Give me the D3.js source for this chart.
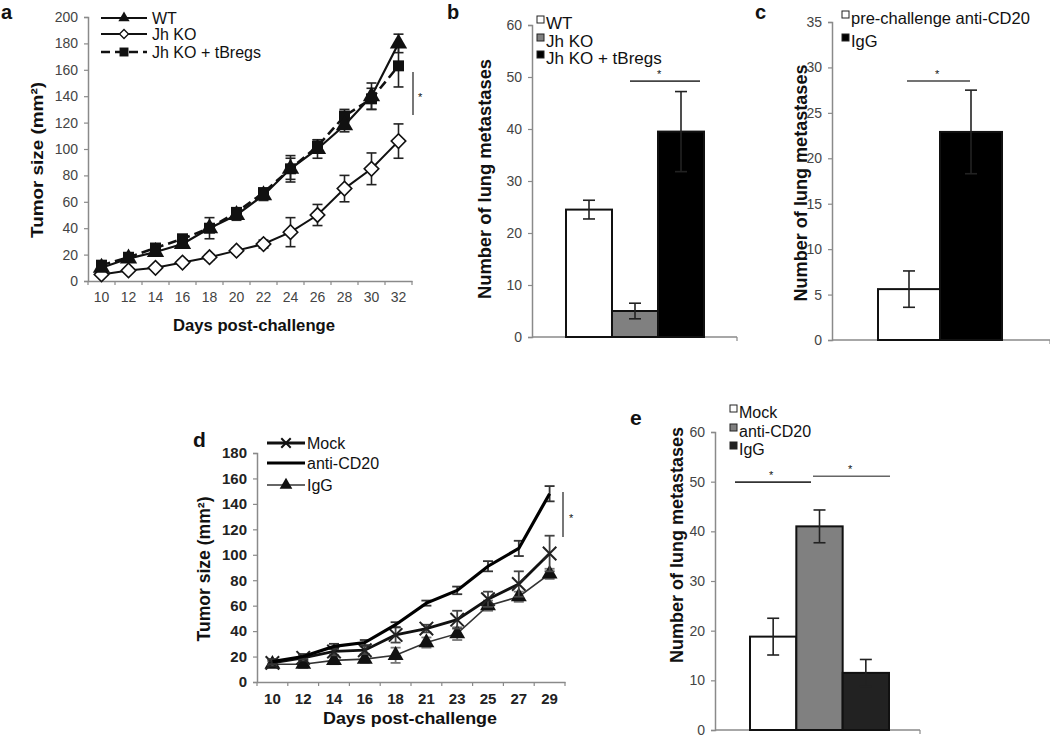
<!DOCTYPE html>
<html><head><meta charset="utf-8">
<script src="https://cdn.jsdelivr.net/npm/d3@7"></script>
<style>body{margin:0;background:#fff}svg{display:block;font-family:"Liberation Sans",Arial,sans-serif}</style>
</head><body><svg id="c" width="1050" height="738"></svg>
<script>
// ---------- DATA ----------
const daysA = [10,12,14,16,18,20,22,24,26,28,30,32];
const wtA   = [10,17,22,28,40,50,65,85,100,118,140,180];
const wtErrA= [1,2,3,3,8,4,4,10,7,5,10,7];
const jhA   = [5,8,10,14,18,23,28,37,50,70,85,106];
const jhErrA= [1,1,1,2,2,2,3,11,8,10,12,13];
const tbA   = [12,18,25,32,40,52,67,85,102,125,138,163];
const tbErrA= [2,2,3,3,3,3,3,8,5,5,8,16];
const seriesA = ["WT","Jh KO","Jh KO + tBregs"];
const yTicksA = [0,20,40,60,80,100,120,140,160,180,200];

const groupsB = ["WT","Jh KO","Jh KO + tBregs"];
const valsB = [24.5,5,39.5];
const errB  = [1.8,1.5,7.7];
const yTicksB = [0,10,20,30,40,50,60];

const groupsC = ["pre-challenge anti-CD20","IgG"];
const valsC = [5.6,22.9];
const errC  = [2.0,4.6];
const yTicksC = [0,5,10,15,20,25,30,35];

const daysD = [10,12,14,16,18,21,23,25,27,29];
const mockD = [15,19,24,25,37,42,49,65,77,101];
const mockErrD = [2,2,3,3,6,3,7,6,10,14];
const cd20D = [16,20,28,31,45,62,72,91,105,148];
const cd20ErrD = [2,2,2,2,2,2,3,4,6,6];
const iggD = [14,14,17,18,21,31,38,60,67,85];
const iggErrD = [2,3,3,3,6,4,5,4,4,4];
const seriesD = ["Mock","anti-CD20","IgG"];
const yTicksD = [0,20,40,60,80,100,120,140,160,180];

const groupsE = ["Mock","anti-CD20","IgG"];
const valsE = [18.8,41,11.5];
const errE  = [3.7,3.3,2.7];
const yTicksE = [0,10,20,30,40,50,60];

// ---------- HELPERS ----------
const svg = d3.select("#c");
svg.append("rect").attr("width",1050).attr("height",738).attr("fill","#fff");
const AX = "#8a8a8a", TK = "#444";
const FF = "'Liberation Sans',Arial,sans-serif";

function yAxis(y, x0, ticks, fs, fill, weight){
  const g = svg.append("g").attr("transform",`translate(${x0},0)`)
    .call(d3.axisLeft(y).tickValues(ticks).tickSize(4).tickPadding(6).tickFormat(d3.format("d")));
  g.select(".domain").attr("stroke",AX).attr("stroke-width",1.5);
  g.selectAll(".tick line").attr("stroke",AX).attr("stroke-width",1.2);
  g.selectAll(".tick text").attr("fill",fill||TK).style("font-size",fs+"px").style("font-weight",weight||"normal").style("font-family",FF);
  return g;
}
function xBaseline(x0,x1,yy){
  svg.append("line").attr("x1",x0).attr("x2",x1).attr("y1",yy).attr("y2",yy).attr("stroke",AX).attr("stroke-width",1.5);
  svg.append("line").attr("x1",x1).attr("x2",x1).attr("y1",yy).attr("y2",yy+4).attr("stroke",AX).attr("stroke-width",1.2);
}
function xCatAxis(x, yy, fs, fill, weight){
  const g = svg.append("g").attr("transform",`translate(0,${yy})`)
    .call(d3.axisBottom(x).tickSize(0).tickPadding(11));
  g.select(".domain").attr("stroke",AX).attr("stroke-width",1.5);
  g.selectAll(".tick text").attr("fill",fill||TK).style("font-size",fs+"px").style("font-weight",weight||"normal").style("font-family",FF);
  const bounds = x.domain().map(d=>x(d)+x.bandwidth()).concat([x(x.domain()[0])]);
  g.selectAll("line.bt").data(bounds).join("line").attr("class","bt")
    .attr("x1",d=>d).attr("x2",d=>d).attr("y1",0).attr("y2",4).attr("stroke",AX).attr("stroke-width",1.2);
}
function text(x,y,s,opt){
  opt=opt||{};
  const t = svg.append("text").attr("x",x).attr("y",y).text(s)
    .style("font-size",(opt.fs||14)+"px").attr("fill",opt.fill||"#111")
    .style("font-weight",opt.bold?"bold":"normal")
    .attr("text-anchor",opt.anchor||"start");
  if(opt.len) t.attr("textLength",opt.len).attr("lengthAdjust","spacingAndGlyphs");
  if(opt.rot) t.attr("transform",`rotate(-90,${x},${y})`);
  return t;
}
function errBars(xs, vals, errs, y, opt){
  opt=opt||{};
  const cap = opt.cap||5;
  const g = svg.append("g").attr("stroke",opt.color||"#222").attr("stroke-width",opt.sw||1.6);
  vals.forEach((v,i)=>{
    const top = v+errs[i], bot = v-errs[i];
    g.append("line").attr("x1",xs[i]).attr("x2",xs[i]).attr("y1",y(top)).attr("y2",y(bot));
    g.append("line").attr("x1",xs[i]-cap).attr("x2",xs[i]+cap).attr("y1",y(top)).attr("y2",y(top));
    g.append("line").attr("x1",xs[i]-cap).attr("x2",xs[i]+cap).attr("y1",y(bot)).attr("y2",y(bot));
  });
}
const tri = d3.symbol().type(d3.symbolTriangle);
const sq = d3.symbol().type(d3.symbolSquare);
const crs = d3.symbol().type(d3.symbolX);

// ---------- PANEL A ----------
{
  const x = d3.scaleBand().domain(daysA).range([88,412]);
  const y = d3.scaleLinear().domain([0,200]).range([281,17]);
  const cx = d=>x(d)+x.bandwidth()/2;
  yAxis(y,88,yTicksA,14);
  xCatAxis(x,281,14);
  const line = d3.line().x((d,i)=>cx(daysA[i])).y(d=>y(d));
  const xs = daysA.map(cx);
  errBars(xs, jhA, jhErrA, y, {cap:5});
  svg.append("path").attr("d",line(jhA)).attr("fill","none").attr("stroke","#111").attr("stroke-width",2);
  svg.selectAll(null).data(jhA).join("path").attr("d",sq.size(105)())
    .attr("transform",(d,i)=>`translate(${xs[i]},${y(d)}) rotate(45)`).attr("fill","#fff").attr("stroke","#111").attr("stroke-width",1.6);
  errBars(xs, wtA, wtErrA, y, {cap:5});
  errBars(xs, tbA, tbErrA, y, {cap:5});
  svg.append("path").attr("d",line(tbA)).attr("fill","none").attr("stroke","#111").attr("stroke-width",2.6).attr("stroke-dasharray","9,5");
  svg.append("path").attr("d",line(wtA)).attr("fill","none").attr("stroke","#111").attr("stroke-width",2.2);
  svg.selectAll(null).data(tbA).join("path").attr("d",sq.size(120)())
    .attr("transform",(d,i)=>`translate(${xs[i]},${y(d)})`).attr("fill","#111");
  svg.selectAll(null).data(wtA).join("path").attr("d",tri.size(130)())
    .attr("transform",(d,i)=>`translate(${xs[i]},${y(d)})`).attr("fill","#111");
  const ly=[18,34,52];
  [[2.2,null],[2,null],[2.6,"9,5"]].forEach((s,i)=>{
    svg.append("line").attr("x1",101).attr("x2",147).attr("y1",ly[i]).attr("y2",ly[i]).attr("stroke","#111").attr("stroke-width",s[0]).attr("stroke-dasharray",s[1]);
    text(152,ly[i]+6,seriesA[i],{fs:16});
  });
  svg.append("path").attr("d",tri.size(55)()).attr("transform",`translate(124,${ly[0]})`).attr("fill","#111");
  svg.append("path").attr("d",sq.size(40)()).attr("transform",`translate(124,${ly[1]}) rotate(45)`).attr("fill","#fff").attr("stroke","#111").attr("stroke-width",1.3);
  svg.append("path").attr("d",sq.size(80)()).attr("transform",`translate(124,${ly[2]})`).attr("fill","#111");
  svg.append("line").attr("x1",413).attr("x2",413).attr("y1",72).attr("y2",115).attr("stroke","#555").attr("stroke-width",1.6);
  text(418,101,"*",{fs:11});
  text(1,19,"a",{fs:20,bold:true});
  text(43,160,"Tumor size (mm²)",{fs:17,bold:true,rot:true,anchor:"middle",len:156});
  text(254,331,"Days post-challenge",{fs:16,bold:true,anchor:"middle",len:162});
}

function barPanel(cfg){
  const y = d3.scaleLinear().domain(cfg.dom).range([cfg.y0,cfg.y1]);
  const x = d3.scaleBand().domain(cfg.groups).range([cfg.bx0,cfg.bx1]).padding(0);
  yAxis(y,cfg.ax,cfg.ticks,14);
  xBaseline(cfg.ax,cfg.axEnd,cfg.y0);
  svg.selectAll(null).data(cfg.vals).join("rect")
    .attr("x",(d,i)=>x(cfg.groups[i])).attr("width",x.bandwidth())
    .attr("y",d=>y(d)).attr("height",d=>cfg.y0-y(d))
    .attr("fill",(d,i)=>cfg.colors[i]).attr("stroke","#111").attr("stroke-width",2);
  errBars(cfg.groups.map(g=>x(g)+x.bandwidth()/2), cfg.vals, cfg.errs, y, {cap:6});
  return {x,y};
}
function legendSq(x,ys,labels,colors,fs){
  labels.forEach((l,i)=>{
    svg.append("rect").attr("x",x).attr("y",ys[i]-9).attr("width",7).attr("height",7).attr("fill",colors[i]).attr("stroke","#222").attr("stroke-width",1);
    text(x+9,ys[i]+4,l,{fs:fs||15});
  });
}

// ---------- PANEL B ----------
{
  const {x,y} = barPanel({dom:[0,60],y0:337,y1:25,groups:groupsB,bx0:566,bx1:704,ax:532,axEnd:737,
    ticks:yTicksB,vals:valsB,errs:errB,colors:["#fff","#808080","#000"]});
  legendSq(537,[25,43,60],groupsB,["#fff","#808080","#000"],17);
  svg.append("line").attr("x1",630).attr("x2",700).attr("y1",y(49.2)).attr("y2",y(49.2)).attr("stroke","#444").attr("stroke-width",1.6);
  text(657,y(49.2)-3,"*",{fs:11});
  text(447,19,"b",{fs:20,bold:true});
  text(491,179,"Number of lung metastases",{fs:19,bold:true,rot:true,anchor:"middle",len:240});
}

// ---------- PANEL C ----------
{
  const {x,y} = barPanel({dom:[0,35],y0:340,y1:22,groups:groupsC,bx0:878,bx1:1002,ax:832,axEnd:1050,
    ticks:yTicksC,vals:valsC,errs:errC,colors:["#fff","#000"]});
  legendSq(842,[20,43],groupsC,["#fff","#000"],16.5);
  svg.append("line").attr("x1",907).attr("x2",970).attr("y1",y(28.5)).attr("y2",y(28.5)).attr("stroke","#444").attr("stroke-width",1.6);
  text(935,y(28.5)-3,"*",{fs:11});
  text(755,19,"c",{fs:20,bold:true});
  text(807,183,"Number of lung metastases",{fs:19,bold:true,rot:true,anchor:"middle",len:237});
}

// ---------- PANEL D ----------
{
  const x = d3.scaleBand().domain(daysD).range([257,565]);
  const y = d3.scaleLinear().domain([0,180]).range([682,453]);
  const cx = d=>x(d)+x.bandwidth()/2;
  yAxis(y,257,yTicksD,15,"#222","bold");
  xCatAxis(x,682,15,"#222","bold");
  const xs = daysD.map(cx);
  const line = d3.line().x((d,i)=>xs[i]).y(d=>y(d));
  errBars(xs, iggD, iggErrD, y, {cap:5,color:"#777",sw:1.8});
  svg.append("path").attr("d",line(iggD)).attr("fill","none").attr("stroke","#333").attr("stroke-width",1.6);
  svg.selectAll(null).data(iggD).join("path").attr("d",tri.size(110)())
    .attr("transform",(d,i)=>`translate(${xs[i]},${y(d)})`).attr("fill","#111");
  errBars(xs, mockD, mockErrD, y, {cap:5,color:"#444",sw:1.8});
  svg.append("path").attr("d",line(mockD)).attr("fill","none").attr("stroke","#111").attr("stroke-width",2.8);
  svg.selectAll(null).data(mockD).join("path").attr("d",crs.size(120)())
    .attr("transform",(d,i)=>`translate(${xs[i]},${y(d)})`).attr("fill","none").attr("stroke","#222").attr("stroke-width",2);
  errBars(xs, cd20D, cd20ErrD, y, {cap:5,color:"#333",sw:1.8});
  svg.append("path").attr("d",line(cd20D)).attr("fill","none").attr("stroke","#000").attr("stroke-width",3.2);
  const ly=[443,463,485];
  [[2.8,"#111"],[3.2,"#000"],[1.6,"#333"]].forEach((s,i)=>{
    svg.append("line").attr("x1",267).attr("x2",305).attr("y1",ly[i]).attr("y2",ly[i]).attr("stroke",s[1]).attr("stroke-width",s[0]);
    text(307,ly[i]+6,seriesD[i],{fs:16});
  });
  svg.append("path").attr("d",crs.size(60)()).attr("transform",`translate(286,${ly[0]})`).attr("fill","none").attr("stroke","#111").attr("stroke-width",2);
  svg.append("path").attr("d",tri.size(70)()).attr("transform",`translate(286,${ly[2]})`).attr("fill","#111");
  svg.append("line").attr("x1",563).attr("x2",563).attr("y1",492).attr("y2",537).attr("stroke","#555").attr("stroke-width",1.6);
  text(569,522,"*",{fs:11});
  text(193,447,"d",{fs:21,bold:true});
  text(210,569,"Tumor size (mm²)",{fs:18,bold:true,rot:true,anchor:"middle",len:145});
  text(410,724,"Days post-challenge",{fs:17,bold:true,anchor:"middle",len:174});
}

// ---------- PANEL E ----------
{
  const {x,y} = barPanel({dom:[0,60],y0:730,y1:432,groups:groupsE,bx0:750,bx1:889,ax:715,axEnd:920,
    ticks:yTicksE,vals:valsE,errs:errE,colors:["#fff","#808080","#222"]});
  legendSq(730,[414,433,451],groupsE,["#fff","#808080","#222"],16);
  svg.append("line").attr("x1",735).attr("x2",811).attr("y1",y(49.9)).attr("y2",y(49.9)).attr("stroke","#333").attr("stroke-width",1.6);
  svg.append("line").attr("x1",813).attr("x2",890).attr("y1",y(51.1)).attr("y2",y(51.1)).attr("stroke","#666").attr("stroke-width",1.6);
  text(769,y(49.9)-3,"*",{fs:11});
  text(848,y(51.1)-3,"*",{fs:11});
  text(630,425,"e",{fs:21,bold:true});
  text(683,545,"Number of lung metastases",{fs:19,bold:true,rot:true,anchor:"middle",len:236});
}
</script></body></html>
